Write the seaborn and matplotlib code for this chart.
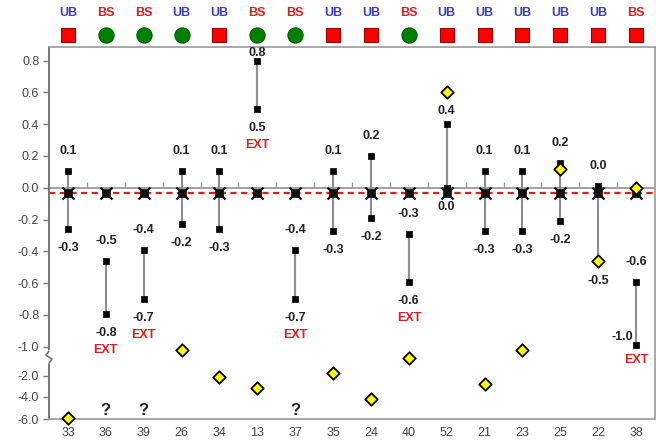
import numpy as np
import pandas as pd
import matplotlib
matplotlib.use("Agg")
import matplotlib.pyplot as plt
import matplotlib.transforms as mtransforms
from matplotlib.lines import Line2D
import seaborn as sns

# ---- data -------------------------------------------------------------
cases = ["33", "36", "39", "26", "34", "13", "37", "35",
         "24", "40", "52", "21", "23", "25", "22", "38"]
groups = ["UB", "BS", "BS", "UB", "UB", "BS", "BS", "UB",
          "UB", "BS", "UB", "UB", "UB", "UB", "UB", "BS"]
flags = ["square", "circle", "circle", "circle", "square", "circle", "circle", "square",
         "square", "circle", "square", "square", "square", "square", "square", "square"]
range_high = [0.105, -0.46, -0.39, 0.105, 0.105, 0.80, -0.39, 0.105,
              0.20, -0.29, 0.40, 0.105, 0.105, 0.153, 0.01, -0.59]
range_low = [-0.26, -0.795, -0.70, -0.228, -0.26, 0.495, -0.70, -0.27,
             -0.19, -0.59, 0.0, -0.27, -0.27, -0.21, -0.47, -0.99]
extended = [False, True, True, False, False, True, True, False,
            False, True, False, False, False, False, False, True]
reference = [-0.035, -0.035, -0.035, -0.035, -0.035, -0.035, -0.035, -0.035,
             -0.035, -0.035, -0.035, -0.035, -0.035, -0.035, -0.035, -0.035]
observed = [-5.9, np.nan, np.nan, -1.1, -2.1, -3.2, np.nan, -1.9,
            -4.2, -1.4, 0.6, -2.8, -1.1, 0.12, -0.46, 0.0]
y_ticks = [0.8, 0.6, 0.4, 0.2, 0.0, -0.2, -0.4, -0.6, -0.8, -1.0, -2.0, -4.0, -6.0]

df = pd.DataFrame({
    "pos": np.arange(len(cases)),
    "case": cases,
    "high": range_high,
    "low": range_low,
    "ref": reference,
    "obs": observed,
})

# ---- style --------------------------------------------------------------
sns.set_theme(style="white")
plt.rcParams["font.family"] = ["Liberation Sans", "DejaVu Sans"]

fig = plt.figure(figsize=(6.56, 4.41), dpi=100)
ax = fig.add_axes([49 / 656, 1 - 419 / 441, 606 / 656, 372 / 441])

# broken y scale: linear above -1, compressed below
knots_data = [-12.0, -6.0, -4.0, -2.0, -1.0, 2.0]
knots_view = [-1.8753, -1.4547, -1.3145, -1.1824, -1.0, 2.0]


def forward(y):
    return np.interp(np.asarray(y, dtype=float), knots_data, knots_view)


def inverse(t):
    return np.interp(np.asarray(t, dtype=float), knots_view, knots_data)


ax.set_yscale("function", functions=(forward, inverse))
ax.set_ylim(-6.0, 0.885)
ax.set_xlim(-0.5, len(cases) - 0.5)

# zero line with small upward ticks between the cases
ax.axhline(0.0, color="#9a9a9a", lw=1.3, zorder=1)
ax.plot(np.arange(len(cases) - 1) + 0.5, np.zeros(len(cases) - 1),
        linestyle="none", marker=2, ms=4, mew=1.0, color="#9a9a9a", zorder=1)

# mean reference line
ax.axhline(float(np.mean(reference)), color="#e21b1b", lw=1.6,
           ls=(0, (2.8, 2.0)), zorder=2)

# ranges
ax.vlines(df["pos"], df["low"], df["high"], color="#8c8c8c", lw=1.5, zorder=3)
ends = pd.concat([df[["pos", "high"]].rename(columns={"high": "v"}),
                  df[["pos", "low"]].rename(columns={"low": "v"})])
sns.scatterplot(data=ends, x="pos", y="v", marker="s", s=14, color="black",
                edgecolor="black", linewidth=0.5, zorder=4, ax=ax, legend=False)

# reference markers
sns.scatterplot(data=df, x="pos", y="ref", marker="s", s=30, color="#111111",
                edgecolor="#111111", linewidth=0.5, zorder=5, ax=ax, legend=False)
sns.scatterplot(data=df, x="pos", y="ref", marker="x", s=75, color="#111111",
                linewidth=1.6, zorder=5, ax=ax, legend=False)

# observed values
sns.scatterplot(data=df.dropna(subset=["obs"]), x="pos", y="obs", marker="D", s=40,
                color="#ffff00", edgecolor="black", linewidth=1.3, zorder=6,
                ax=ax, legend=False, clip_on=False)

# value labels
label_kw = dict(textcoords="offset pixels", ha="center", va="center",
                fontsize=9, fontweight="bold", color="#222222", zorder=7)
for i, row in df.iterrows():
    if row["high"] > 0.7:
        top_off = 8
    elif not np.isnan(row["obs"]) and 0 < row["obs"] - row["high"] < 0.3:
        top_off = 13
    else:
        top_off = 20
    ax.annotate(f"{row['high']:.1f}", (row["pos"], row["high"]),
                xytext=(0, top_off), **label_kw)
    if i == len(df) - 1:
        ax.annotate(f"{row['low']:.1f}", (row["pos"], row["low"]),
                    xytext=(-14, 8), **label_kw)
        ext_off = -15
    else:
        ax.annotate(f"{row['low']:.1f}", (row["pos"], row["low"]),
                    xytext=(0, -19), **label_kw)
        ext_off = -36
    if extended[i]:
        ax.annotate("EXT", (row["pos"], row["low"]), xytext=(0, ext_off),
                    textcoords="offset pixels", ha="center", va="center",
                    fontsize=9, fontweight="bold", color="#e21b1b", zorder=7)
    if np.isnan(row["obs"]):
        ax.text(row["pos"], -5.2, "?", ha="center", va="center",
                fontsize=12, fontweight="bold", color="#222222")

# group row above the plot
top = mtransforms.blended_transform_factory(ax.transData, ax.transAxes)
for i, (g, f) in enumerate(zip(groups, flags)):
    ax.text(i, 1.091, g, transform=top, ha="center", va="center", fontsize=9,
            fontweight="bold", color="#3b3bcc" if g == "UB" else "#e21b1b")
    if f == "square":
        ax.scatter([i], [1.032], transform=top, marker="s", s=115, color="#ff0000",
                   edgecolor="#a00000", linewidth=0.8, clip_on=False, zorder=8)
    else:
        ax.scatter([i], [1.032], transform=top, marker="o", s=120, color="#008000",
                   edgecolor="#005a00", linewidth=0.8, clip_on=False, zorder=8)

# axes
ax.set_yticks(y_ticks)
ax.set_yticklabels([f"{v:.1f}" for v in y_ticks])
ax.set_xticks(df["pos"])
ax.set_xticklabels(cases)
ax.set_xlabel("")
ax.set_ylabel("")
ax.tick_params(axis="y", direction="out", length=4, width=1, color="#777777",
               labelsize=9, labelcolor="#444444", pad=3, left=True)
ax.tick_params(axis="x", length=0, labelsize=9, labelcolor="#444444", pad=6)
for name, sp in ax.spines.items():
    sp.set_visible(True)
    sp.set_color("#9a9a9a")
    sp.set_linewidth(1.2)
ax.spines["left"].set_color("#777777")
ax.spines["left"].set_linewidth(1.4)

# axis break mark
bx = ax.transAxes.transform((0, 0))[0]
by = ax.transData.transform((0, -1.36))[1]
fig.add_artist(Line2D([bx, bx], [by - 5, by + 5], transform=None,
                      color="white", lw=3, zorder=9))
fig.add_artist(Line2D([bx, bx - 3, bx + 3, bx], [by + 6, by + 2, by - 2, by - 6],
                      transform=None, color="#777777", lw=1.2, zorder=10))

fig.savefig("out.png", dpi=100)
